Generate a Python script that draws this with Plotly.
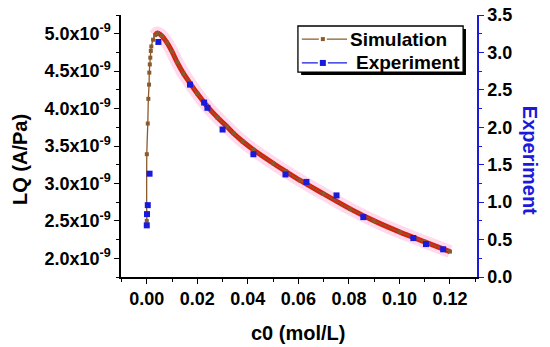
import plotly.graph_objects as go

# Simulation (left axis, A/Pa)
sim_x = [0.0, 0.00002, 0.0004, 0.00063, 0.0009, 0.0010, 0.0012, 0.0014, 0.0016, 0.0018,
         0.0025, 0.0033, 0.0042, 0.0060, 0.0080, 0.0100, 0.0120, 0.0145, 0.0171, 0.0200,
         0.0237, 0.0280, 0.0317, 0.0343, 0.0380, 0.0422, 0.0500, 0.0550, 0.0607, 0.0700,
         0.0805, 0.0900, 0.1002, 0.1100, 0.1200]
sim_y = [2.50e-9, 3.39e-9, 3.80e-9, 4.13e-9, 4.32e-9, 4.48e-9, 4.59e-9, 4.68e-9, 4.77e-9, 4.83e-9,
         4.92e-9, 4.98e-9, 5.01e-9, 4.97e-9, 4.88e-9, 4.76e-9, 4.62e-9, 4.47e-9, 4.34e-9, 4.20e-9,
         4.04e-9, 3.88e-9, 3.76e-9, 3.67e-9, 3.56e-9, 3.45e-9, 3.27e-9, 3.16e-9, 3.04e-9, 2.86e-9,
         2.66e-9, 2.50e-9, 2.35e-9, 2.22e-9, 2.09e-9]

# Experiment (right axis)
exp_x = [0.0000, 0.0001, 0.0004, 0.0011, 0.0046, 0.0171, 0.0227, 0.0240, 0.0300, 0.0422,
         0.0549, 0.0632, 0.0751, 0.0857, 0.1055, 0.1105, 0.1173]
exp_y = [0.69, 0.84, 0.96, 1.38, 3.14, 2.57, 2.33, 2.26, 1.97, 1.64,
         1.37, 1.27, 1.09, 0.80, 0.52, 0.44, 0.37]

left_ticks = [2.0e-9, 2.5e-9, 3.0e-9, 3.5e-9, 4.0e-9, 4.5e-9, 5.0e-9]
left_labels = ["2.0x10<sup>-9</sup>", "2.5x10<sup>-9</sup>", "3.0x10<sup>-9</sup>",
               "3.5x10<sup>-9</sup>", "4.0x10<sup>-9</sup>", "4.5x10<sup>-9</sup>",
               "5.0x10<sup>-9</sup>"]
x_ticks = [0.00, 0.02, 0.04, 0.06, 0.08, 0.10, 0.12]
x_labels = ["0.00", "0.02", "0.04", "0.06", "0.08", "0.10", "0.12"]
right_ticks = [0.0, 0.5, 1.0, 1.5, 2.0, 2.5, 3.0, 3.5]
right_labels = ["0.0", "0.5", "1.0", "1.5", "2.0", "2.5", "3.0", "3.5"]
legend_names = ["Simulation", "Experiment"]


def bold(labels):
    return ["<b>" + s + "</b>" for s in labels]


BLUE = "#1a1adc"
BROWN = "#8b5a2b"
FONT = "Liberation Sans, Arial, sans-serif"

fig = go.Figure()

# pink halo + thick red line on the decaying part
peak_i = sim_y.index(max(sim_y))
fig.add_trace(go.Scatter(x=sim_x[peak_i - 1:], y=sim_y[peak_i - 1:], mode="lines",
                         line=dict(color="rgba(255,170,215,0.45)", width=13, shape="spline"),
                         showlegend=False, hoverinfo="skip"))
fig.add_trace(go.Scatter(x=sim_x[peak_i - 1:], y=sim_y[peak_i - 1:], mode="lines",
                         line=dict(color="#d8200c", width=5, shape="spline"),
                         showlegend=False, hoverinfo="skip"))
fig.add_trace(go.Scatter(x=sim_x, y=sim_y, mode="lines+markers", name=legend_names[0],
                         line=dict(color=BROWN, width=1.3, shape="spline"),
                         marker=dict(color=BROWN, size=4, symbol="square"), showlegend=False))

fig.add_trace(go.Scatter(x=exp_x, y=exp_y, mode="markers", yaxis="y2", name=legend_names[1],
                         showlegend=False,
                         marker=dict(color=BLUE, size=6, symbol="square")))

fig.update_layout(
    width=550, height=347,
    margin=dict(l=121, r=73, t=15, b=70, autoexpand=False),
    paper_bgcolor="white", plot_bgcolor="white",
    font=dict(family=FONT, size=18, color="black"),
    showlegend=False,
    xaxis=dict(range=[-0.0102, 0.1307], tickvals=x_ticks, ticktext=bold(x_labels),
               automargin=False,
               ticks="outside", ticklen=5, tickwidth=1.3, tickcolor="black",
               minor=dict(dtick=0.01, ticks="outside", ticklen=3, tickcolor="black", tickwidth=1),
               showline=True, linecolor="black", linewidth=1.5, showgrid=False, zeroline=False,
               tickfont=dict(size=18)),
    xaxis2=dict(range=[-0.0102, 0.1307], overlaying="x", side="top", tickvals=x_ticks,
                automargin=False,
                showticklabels=False, ticks="inside", ticklen=5, tickwidth=1.3, tickcolor="black",
                minor=dict(dtick=0.01, ticks="inside", ticklen=3, tickcolor="black", tickwidth=1),
                showline=True, linecolor="black", linewidth=1.5, showgrid=False, zeroline=False),
    yaxis=dict(range=[1.75e-9, 5.25e-9], tickvals=left_ticks, ticktext=bold(left_labels),
               automargin=False,
               ticks="outside", ticklen=5, tickwidth=1.3, tickcolor="black",
               minor=dict(dtick=0.25e-9, ticks="outside", ticklen=3, tickcolor="black", tickwidth=1),
               showline=True, linecolor="black", linewidth=1.5, showgrid=False, zeroline=False,
               tickfont=dict(size=18)),
    yaxis2=dict(range=[0, 3.5], overlaying="y", side="right", tickvals=right_ticks,
                ticktext=bold(right_labels), automargin=False,
                ticks="outside", ticklen=5, tickwidth=1.3, tickcolor=BLUE,
                minor=dict(dtick=0.25, ticks="outside", ticklen=3, tickcolor=BLUE, tickwidth=1),
                showline=True, linecolor=BLUE, linewidth=1.5, showgrid=False, zeroline=False,
                tickfont=dict(size=18, color="black")),
)

# ---- legend box (drawn with shapes & annotations) ----
fig.add_shape(type="rect", xref="paper", yref="paper", x0=0.506, x1=0.969, y0=0.771, y1=0.947,
              fillcolor="black", line=dict(width=0), layer="above")
fig.add_shape(type="rect", xref="paper", yref="paper", x0=0.497, x1=0.961, y0=0.782, y1=0.958,
              fillcolor="white", line=dict(color="black", width=1.3), layer="above")
legend_rows = [(0.908, BROWN, 4, 0.638), (0.817, BLUE, 6, 0.654)]
for name, (yr, col, msz, tx) in zip(legend_names, legend_rows):
    fig.add_shape(type="line", xref="paper", yref="paper", x0=0.508, x1=0.635, y0=yr, y1=yr,
                  line=dict(color=col, width=1.3), layer="above")
    fig.add_shape(type="rect", xref="paper", yref="paper", xsizemode="pixel", ysizemode="pixel",
                  xanchor=0.567, yanchor=yr, x0=-msz / 2 - 2, x1=msz / 2 + 2, y0=-3, y1=3,
                  fillcolor="white", line=dict(width=0), layer="above")
    fig.add_shape(type="rect", xref="paper", yref="paper", xsizemode="pixel", ysizemode="pixel",
                  xanchor=0.567, yanchor=yr, x0=-msz / 2, x1=msz / 2, y0=-msz / 2, y1=msz / 2,
                  fillcolor=col, line=dict(width=0), layer="above")
    fig.add_annotation(text="<b>" + name + "</b>", xref="paper", yref="paper", x=tx, y=yr,
                       xanchor="left", yanchor="middle", showarrow=False,
                       font=dict(family=FONT, size=19, color="black"))

fig.add_annotation(text="<b>LQ (A/Pa)</b>", xref="paper", yref="paper", x=-0.284, y=0.45,
                   xanchor="center", yanchor="middle",
                   textangle=-90, showarrow=False,
                   font=dict(family=FONT, size=20, color="black"))
fig.add_annotation(text="<b>Experiment</b>", xref="paper", yref="paper", x=1.149, y=0.447,
                   xanchor="center", yanchor="middle",
                   textangle=90, showarrow=False,
                   font=dict(family=FONT, size=20, color=BLUE))
fig.add_annotation(text="<b>c0 (mol/L)</b>", xref="paper", yref="paper", x=0.497, y=-0.214,
                   xanchor="center", yanchor="middle",
                   showarrow=False,
                   font=dict(family=FONT, size=20, color="black"))

fig.write_html("out.html", post_script="document.body.style.margin='0px';",
               config={"displayModeBar": False})
